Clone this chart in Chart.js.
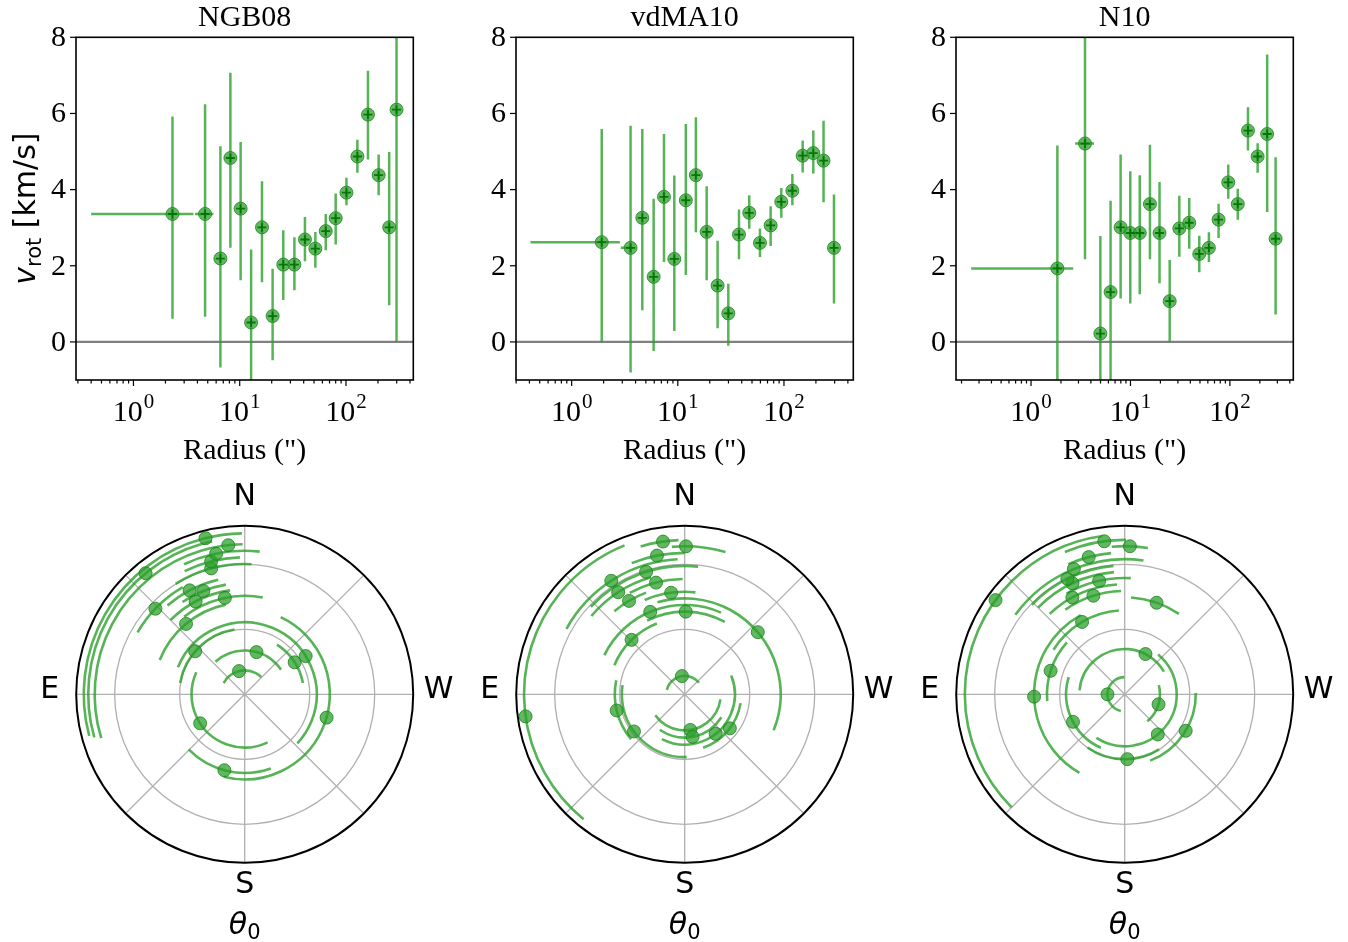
<!DOCTYPE html>
<html>
<head>
<meta charset="utf-8">
<script src="https://cdn.jsdelivr.net/npm/chart.js@4.4.0/dist/chart.umd.min.js"></script>
<style>
  html, body { margin: 0; padding: 0; background: #fff; }
  #wrap { position: relative; width: 1348px; height: 942px; overflow: hidden; }
  #wrap canvas { position: absolute; }
</style>
</head>
<body>
<div id="wrap">
  <canvas id="rc0" width="440" height="470" style="left:0;top:0"></canvas>
  <canvas id="rc1" width="440" height="470" style="left:440px;top:0"></canvas>
  <canvas id="rc2" width="440" height="470" style="left:880px;top:0"></canvas>
  <canvas id="pc0" width="468" height="472" style="left:0;top:470px"></canvas>
  <canvas id="pc1" width="468" height="472" style="left:440px;top:470px"></canvas>
  <canvas id="pc2" width="468" height="472" style="left:880px;top:470px"></canvas>
</div>
<script>
// 회전곡선 3종(NGB08 / vdMA10 / N10) — 위: 반경별 v_rot, 아래: 위치각 θ0 극좌표
const TITLES = ["NGB08", "vdMA10", "N10"];
const Y_TICKS = [0, 2, 4, 6, 8];
const X_DECADES = [0, 1, 2];
const X_MIN = [0.288, 0.299, 0.176];
const X_MAX = [430, 450, 434];
const R_MAX = 2.592;          // 극좌표 바깥 원 (log10 arcsec)
const RINGS = [1, 2];

// NGB08
const radius1 = [2.33, 4.72, 6.58, 8.17, 10.2, 12.8, 16.2, 20.4, 25.7, 32.7, 41.1, 51.5, 64.5, 80.0, 101, 128, 161, 203, 255, 299];
const vrot1 = [3.36, 3.36, 2.19, 4.83, 3.50, 0.51, 3.01, 0.68, 2.03, 2.03, 2.69, 2.45, 2.91, 3.25, 3.92, 4.87, 5.97, 4.38, 3.01, 6.10];
const vErrLo1 = [2.75, 2.70, 2.86, 2.36, 1.88, 1.92, 1.44, 1.16, 0.93, 0.67, 0.57, 0.50, 0.50, 0.69, 0.33, 0.43, 1.18, 0.53, 2.05, 6.10];
const vErrHi1 = [2.56, 2.88, 2.95, 2.24, 1.75, 1.92, 1.21, 1.24, 0.90, 0.72, 0.59, 0.44, 0.45, 0.65, 0.39, 0.44, 1.15, 0.54, 1.98, 6.10];
const binLo1 = [0.40, 3.80];
const binHi1 = [3.67, 5.65];
const theta1 = [13.7, -15.6, 123.1, -57.4, 49.0, -57.9, 165.0, 254.1, 39.8, 11.6, 27.9, 21.8, 27.9, 46.2, 14.9, 14.2, 11.5, 6.3, 39.3, 14.1];
const thetaLo1 = [-44, -56, 65.5, -79, 9, -133, 134.5, 165.7, 12, -10.6, 8, 9.7, 13, 30, -3, 2, -6, 0.8, 12, 1];
const thetaHi1 = [62, 42, 205.5, -33, 80, 68, 199.4, 335, 68, 38, 45, 34, 41, 60, 32, 26, 25, 107, 106, 105];

// vdMA10
const radius2 = [1.92, 3.59, 4.63, 5.92, 7.41, 9.27, 11.9, 14.8, 18.7, 23.7, 29.9, 37.7, 47.1, 59.4, 74.9, 94.4, 120, 150, 189, 236, 296];
const vrot2 = [2.62, 2.47, 3.26, 1.71, 3.81, 2.18, 3.72, 4.38, 2.89, 1.48, 0.75, 2.82, 3.39, 2.60, 3.06, 3.68, 3.97, 4.89, 4.96, 4.76, 2.47];
const vErrLo2 = [2.62, 3.27, 2.43, 1.95, 1.71, 1.89, 1.96, 1.50, 1.27, 1.12, 0.85, 0.65, 0.42, 0.37, 0.54, 0.42, 0.38, 0.44, 0.54, 1.09, 1.46];
const vErrHi2 = [2.97, 3.21, 2.33, 2.05, 1.65, 2.19, 2.00, 1.52, 1.20, 1.18, 0.78, 0.66, 0.46, 0.38, 0.50, 0.36, 0.44, 0.40, 0.59, 1.05, 1.40];
const binLo2 = [0.41, 2.90];
const binHi2 = [2.85, 3.75];
const theta2 = [8.6, 189, 190.5, 218, 233, 126.2, 103.4, 44.3, -0.7, 22.7, -49.6, 7.6, 30.8, 14.4, 33.1, 17.5, 32.9, 11.3, -0.5, 8.1, 97.9];
const thetaLo2 = [-51, 125.5, 145, 153, 199, 81.6, 78.4, 21.5, -29, -24, -112, -6, 20.8, 1, 16, -6, 3, 0, -16, 2.3, 22];
const thetaHi2 = [76, 262, 238, 292, 261, 181.8, 129.9, 67.5, 27, 64, 16.5, 23, 40.3, 28.5, 50, 47, 61, 22, 5, 16.6, 141];

// N10
const radius3 = [1.84, 3.49, 4.98, 6.31, 7.96, 9.96, 12.4, 15.7, 19.6, 24.8, 31.0, 39.0, 49.2, 61.5, 76.9, 96.2, 120, 152, 190, 237, 288];
const vrot3 = [1.93, 5.21, 0.22, 1.31, 3.01, 2.86, 2.86, 3.62, 2.86, 1.07, 2.98, 3.13, 2.31, 2.47, 3.21, 4.19, 3.62, 5.55, 4.87, 5.46, 2.71];
const vErrLo3 = [3.23, 3.04, 2.56, 2.40, 1.87, 1.85, 1.61, 1.45, 1.32, 1.07, 0.74, 0.68, 0.48, 0.37, 0.48, 0.43, 0.41, 0.52, 0.43, 2.05, 1.99];
const vErrHi3 = [3.23, 3.04, 2.56, 2.40, 1.91, 1.62, 1.52, 1.56, 1.34, 1.08, 0.86, 0.65, 0.48, 0.41, 0.42, 0.47, 0.40, 0.61, 0.35, 2.09, 2.14];
const binLo3 = [0.25, 2.77];
const binHi3 = [2.66, 4.30];
const theta3 = [90, 253.5, -27.3, 219.5, 118, 182.3, 239.1, 72.4, 30.5, 91.5, -19.2, 17.6, 28.4, 12.7, 25.2, 26.4, 22.1, 14.7, -2, 7.6, 53.9];
const thetaLo3 = [1, 220, -60, 147, 73, 145, 201, 48, 4, 29, -34, 2, 4, -3, 5, 5, -8, 5.5, -9, -0.5, 8];
const thetaHi3 = [167, 285, 85, 320, 156, 212, 271, 95, 58, 150, -3.7, 35, 43, 30, 45, 46, 54, 23.4, 5, 22.8, 135];

(function () {
  const BAR = "rgba(44,160,44,0.8)";
  const DOT = "rgba(44,160,44,0.75)";
  const EDGE = "rgba(30,130,30,0.8)";
  const SERIF = "'Liberation Serif', 'Times New Roman', serif";
  const SANS = "'DejaVu Sans', sans-serif";

  const panels = [
    { r: radius1, v: vrot1, lo: vErrLo1, hi: vErrHi1, bLo: binLo1, bHi: binHi1, th: theta1, thLo: thetaLo1, thHi: thetaHi1 },
    { r: radius2, v: vrot2, lo: vErrLo2, hi: vErrHi2, bLo: binLo2, bHi: binHi2, th: theta2, thLo: thetaLo2, thHi: thetaHi2 },
    { r: radius3, v: vrot3, lo: vErrLo3, hi: vErrHi3, bLo: binLo3, bHi: binHi3, th: theta3, thLo: thetaLo3, thHi: thetaHi3 },
  ];

  function seg(ctx, x0, y0, x1, y1) {
    ctx.beginPath(); ctx.moveTo(x0, y0); ctx.lineTo(x1, y1); ctx.stroke();
  }

  // 위 패널: 오차막대 + 축
  function rotPlugin(p, idx) {
    return {
      id: "rot" + idx,
      beforeDatasetsDraw(chart) {
        const { ctx, chartArea: a, scales: { x, y } } = chart;
        ctx.save();
        ctx.beginPath(); ctx.rect(a.left, a.top, a.right - a.left, a.bottom - a.top); ctx.clip();
        ctx.strokeStyle = "#808080"; ctx.lineWidth = 2.4;
        const y0 = y.getPixelForValue(0);
        seg(ctx, a.left, y0, a.right, y0);
        ctx.strokeStyle = BAR; ctx.lineWidth = 2.5;
        p.r.forEach((r, i) => {
          const px = x.getPixelForValue(r);
          seg(ctx, px, y.getPixelForValue(p.v[i] - p.lo[i]), px, y.getPixelForValue(p.v[i] + p.hi[i]));
        });
        p.bLo.forEach((lo, i) => {
          const py = y.getPixelForValue(p.v[i]);
          seg(ctx, x.getPixelForValue(lo), py, x.getPixelForValue(p.bHi[i]), py);
        });
        ctx.restore();
      },
      afterDraw(chart) {
        const { ctx, chartArea: a, scales: { x, y } } = chart;
        ctx.save();
        ctx.strokeStyle = "#000"; ctx.fillStyle = "#000"; ctx.lineWidth = 1.6;
        ctx.strokeRect(a.left, a.top, a.right - a.left, a.bottom - a.top);
        ctx.lineWidth = 1.2;
        ctx.font = "30px " + SERIF; ctx.textAlign = "right"; ctx.textBaseline = "middle";
        Y_TICKS.forEach((v) => {
          const py = y.getPixelForValue(v);
          seg(ctx, a.left - 6, py, a.left, py);
          ctx.fillText(String(v), a.left - 10, py + 1);
        });
        for (let k = -1; k <= 3; k++) {
          for (let m = 1; m <= 9; m++) {
            const val = m * Math.pow(10, k);
            if (val < x.min || val > x.max) continue;
            const px = x.getPixelForValue(val);
            seg(ctx, px, a.bottom, px, a.bottom + (m === 1 ? 6 : 3.5));
          }
        }
        ctx.textAlign = "left"; ctx.textBaseline = "alphabetic";
        X_DECADES.forEach((k) => {
          const px = x.getPixelForValue(Math.pow(10, k));
          ctx.font = "30px " + SERIF;
          const wb = ctx.measureText("10").width;
          ctx.font = "21px " + SERIF;
          const we = ctx.measureText(String(k)).width;
          const x0 = px - (wb + we + 1) / 2;
          ctx.font = "30px " + SERIF;
          ctx.fillText("10", x0, a.bottom + 41);
          ctx.font = "21px " + SERIF;
          ctx.fillText(String(k), x0 + wb + 1, a.bottom + 28);
        });
        const cx = (a.left + a.right) / 2;
        ctx.textAlign = "center";
        ctx.font = "30px " + SERIF;
        ctx.fillText('Radius (")', cx, a.bottom + 79);
        ctx.fillText(TITLES[idx], cx, a.top - 11);
        if (idx === 0) {
          ctx.translate(a.left - 41, (a.top + a.bottom) / 2);
          ctx.rotate(-Math.PI / 2);
          ctx.textAlign = "left";
          const big = "30px " + SANS, ital = "italic 30px " + SANS, sub = "21px " + SANS;
          ctx.font = ital; const w1 = ctx.measureText("v").width;
          ctx.font = sub; const w2 = ctx.measureText("rot").width;
          ctx.font = big; const w3 = ctx.measureText(" [km/s]").width;
          let sx = -(w1 + w2 + w3) / 2;
          ctx.font = ital; ctx.fillText("v", sx, 0); sx += w1;
          ctx.font = sub; ctx.fillText("rot", sx, 6); sx += w2;
          ctx.font = big; ctx.fillText(" [km/s]", sx, 0);
        }
        ctx.restore();
      },
    };
  }

  // 아래 패널: 극좌표 격자 + 각도 오차 호
  function polarPlugin(p, idx) {
    return {
      id: "pol" + idx,
      beforeDatasetsDraw(chart) {
        const { ctx, scales: { x, y } } = chart;
        const cx = x.getPixelForValue(0), cy = y.getPixelForValue(0);
        const rad = (v) => x.getPixelForValue(v) - cx;
        const R = rad(R_MAX);
        ctx.save();
        ctx.strokeStyle = "#b0b0b0"; ctx.lineWidth = 1.3;
        RINGS.forEach((r) => { ctx.beginPath(); ctx.arc(cx, cy, rad(r), 0, 2 * Math.PI); ctx.stroke(); });
        for (let d = 0; d < 360; d += 45) {
          const t = d * Math.PI / 180;
          seg(ctx, cx, cy, cx - R * Math.sin(t), cy - R * Math.cos(t));
        }
        ctx.strokeStyle = "#000"; ctx.lineWidth = 2;
        ctx.beginPath(); ctx.arc(cx, cy, R, 0, 2 * Math.PI); ctx.stroke();
        ctx.strokeStyle = BAR; ctx.lineWidth = 2.6;
        p.r.forEach((r, i) => {
          const a0 = (-90 - p.thHi[i]) * Math.PI / 180;
          const a1 = (-90 - p.thLo[i]) * Math.PI / 180;
          ctx.beginPath(); ctx.arc(cx, cy, rad(Math.log10(r)), a0, a1); ctx.stroke();
        });
        ctx.restore();
      },
      afterDraw(chart) {
        const { ctx, scales: { x, y } } = chart;
        const cx = x.getPixelForValue(0), cy = y.getPixelForValue(0);
        ctx.save();
        ctx.fillStyle = "#000";
        ctx.font = "30px " + SANS; ctx.textAlign = "center"; ctx.textBaseline = "middle";
        ctx.fillText("N", cx, cy - 197);
        ctx.fillText("S", cx, cy + 191);
        ctx.fillText("E", cx - 195, cy - 4);
        ctx.fillText("W", cx + 194, cy - 4);
        ctx.textAlign = "left";
        ctx.font = "italic 30px " + SANS; const w1 = ctx.measureText("θ").width;
        ctx.font = "21px " + SANS; const w2 = ctx.measureText("0").width;
        const sx = cx - (w1 + w2) / 2;
        ctx.font = "italic 30px " + SANS; ctx.fillText("θ", sx, cy + 232);
        ctx.font = "21px " + SANS; ctx.fillText("0", sx + w1, cy + 239);
        ctx.restore();
      },
    };
  }

  const base = {
    responsive: false, animation: false, events: [],
    plugins: { legend: { display: false }, tooltip: { enabled: false } },
  };

  panels.forEach((p, i) => {
    const pts = p.r.map((r, j) => ({ x: r, y: p.v[j] }));
    new Chart(document.getElementById("rc" + i), {
      type: "scatter",
      data: {
        datasets: [
          { data: pts, pointStyle: "cross", pointRadius: 4.5, borderColor: "rgba(0,110,0,0.9)", borderWidth: 1.8, order: 1 },
          { data: pts, pointRadius: 6.5, backgroundColor: DOT, borderColor: EDGE, borderWidth: 1, order: 2 },
        ],
      },
      options: Object.assign({}, base, {
        layout: { padding: { left: 76, top: 37.3, right: 26.7, bottom: 90 } },
        scales: {
          x: { type: "logarithmic", min: X_MIN[i], max: X_MAX[i], display: false },
          y: { type: "linear", min: -1, max: 8, display: false },
        },
      }),
      plugins: [rotPlugin(p, i)],
    });

    const pol = p.r.map((r, j) => {
      const lr = Math.log10(r), t = p.th[j] * Math.PI / 180;
      return { x: -lr * Math.sin(t), y: lr * Math.cos(t) };
    });
    new Chart(document.getElementById("pc" + i), {
      type: "scatter",
      data: {
        datasets: [
          { data: pol, pointRadius: 6.5, backgroundColor: DOT, borderColor: EDGE, borderWidth: 1 },
        ],
      },
      options: Object.assign({}, base, {
        layout: { padding: { left: 76.2, top: 55.8, right: 54.8, bottom: 79.2 } },
        scales: {
          x: { type: "linear", min: -R_MAX, max: R_MAX, display: false },
          y: { type: "linear", min: -R_MAX, max: R_MAX, display: false },
        },
      }),
      plugins: [polarPlugin(p, i)],
    });
  });
})();
</script>
</body>
</html>
